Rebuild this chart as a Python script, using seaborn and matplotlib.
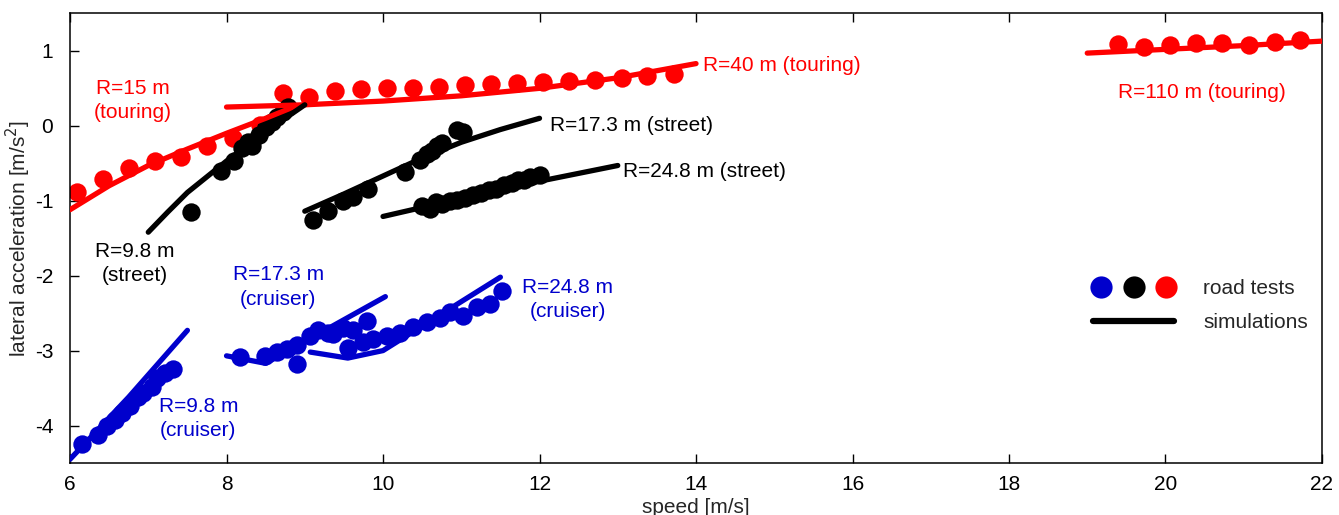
import matplotlib
matplotlib.use("Agg")
import matplotlib.pyplot as plt
from matplotlib.lines import Line2D
from matplotlib.legend_handler import HandlerTuple
import seaborn as sns

# ---- road tests (measured points) -------------------------------------
touring15_speed = [6.09, 6.42, 6.75, 7.08, 7.42, 7.75, 8.08, 8.43]
touring15_acc = [-0.88, -0.71, -0.56, -0.47, -0.41, -0.27, -0.16, 0.01]

touring40_speed = [8.72, 9.05, 9.38, 9.72, 10.05, 10.38, 10.71, 11.05,
                   11.38, 11.71, 12.05, 12.38, 12.71, 13.05, 13.38, 13.72]
touring40_acc = [0.44, 0.39, 0.46, 0.49, 0.50, 0.50, 0.52, 0.54,
                 0.56, 0.57, 0.58, 0.60, 0.61, 0.64, 0.67, 0.69]

touring110_speed = [19.39, 19.73, 20.06, 20.39, 20.72, 21.07, 21.40, 21.72]
touring110_acc = [1.09, 1.05, 1.08, 1.10, 1.11, 1.08, 1.12, 1.14]

street98_speed = [7.55, 7.93, 8.10, 8.20, 8.27, 8.33, 8.42, 8.50, 8.58, 8.65, 8.72, 8.78]
street98_acc = [-1.15, -0.60, -0.47, -0.30, -0.22, -0.27, -0.12, -0.02, 0.05, 0.12, 0.18, 0.25]

street173_speed = [9.11, 9.30, 9.49, 9.62, 9.81, 10.28, 10.47, 10.56, 10.62,
                   10.69, 10.75, 10.95, 11.02]
street173_acc = [-1.26, -1.14, -1.00, -0.95, -0.85, -0.62, -0.45, -0.38, -0.33,
                 -0.27, -0.23, -0.05, -0.08]

street248_speed = [10.50, 10.60, 10.68, 10.75, 10.85, 10.95, 11.05, 11.15, 11.25,
                   11.35, 11.45, 11.55, 11.65, 11.72, 11.80, 11.88, 12.00]
street248_acc = [-1.07, -1.11, -1.02, -1.05, -1.00, -0.99, -0.97, -0.93, -0.90,
                 -0.86, -0.84, -0.79, -0.76, -0.72, -0.73, -0.68, -0.66]

cruiser98_speed = [6.15, 6.36, 6.47, 6.57, 6.66, 6.77, 6.87, 6.93, 7.05, 7.11, 7.21, 7.32]
cruiser98_acc = [-4.24, -4.12, -4.00, -3.92, -3.83, -3.74, -3.62, -3.56, -3.49, -3.36, -3.30, -3.25]

cruiser173_speed = [8.17, 8.49, 8.64, 8.77, 8.90, 8.90, 9.07, 9.17, 9.30, 9.36, 9.49, 9.62, 9.80]
cruiser173_acc = [-3.09, -3.07, -3.02, -2.98, -3.18, -2.92, -2.80, -2.73, -2.76, -2.78, -2.70, -2.72, -2.61]

cruiser248_speed = [9.55, 9.74, 9.87, 10.05, 10.22, 10.38, 10.56, 10.73,
                    10.86, 11.02, 11.20, 11.37, 11.52]
cruiser248_acc = [-2.96, -2.89, -2.85, -2.81, -2.76, -2.68, -2.62, -2.56,
                  -2.49, -2.54, -2.42, -2.38, -2.21]

# ---- simulations --------------------------------------------------------
sim_touring15_speed = [6.0, 6.5, 7.0, 7.5, 8.0, 8.5, 8.9]
sim_touring15_acc = [-1.12, -0.80, -0.53, -0.31, -0.10, 0.10, 0.27]

sim_touring40_speed = [8.0, 9.0, 10.0, 11.0, 12.0, 13.0, 14.0]
sim_touring40_acc = [0.25, 0.28, 0.33, 0.40, 0.50, 0.64, 0.83]

sim_touring110_speed = [19.0, 20.0, 21.0, 22.0]
sim_touring110_acc = [0.97, 1.02, 1.07, 1.13]

sim_street98_speed = [7.0, 7.25, 7.5, 8.0, 8.5, 9.0]
sim_street98_acc = [-1.42, -1.15, -0.89, -0.47, -0.08, 0.28]

sim_street173_speed = [9.0, 9.5, 10.0, 10.5, 11.0, 11.5, 12.0]
sim_street173_acc = [-1.14, -0.91, -0.67, -0.43, -0.22, -0.05, 0.10]

sim_street248_speed = [10.0, 11.0, 12.0, 13.0]
sim_street248_acc = [-1.21, -0.97, -0.74, -0.53]

sim_cruiser98_speed = [6.0, 6.75, 7.5]
sim_cruiser98_acc = [-4.45, -3.62, -2.73]

sim_cruiser173_speed = [8.0, 8.5, 10.03]
sim_cruiser173_acc = [-3.07, -3.17, -2.28]

sim_cruiser248_speed = [9.07, 9.55, 10.0, 11.5]
sim_cruiser248_acc = [-3.02, -3.10, -3.00, -2.02]

RED = "#ff0000"
BLACK = "#000000"
BLUE = "#0000cc"

series = [
    (touring15_speed, touring15_acc, sim_touring15_speed, sim_touring15_acc, RED),
    (touring40_speed, touring40_acc, sim_touring40_speed, sim_touring40_acc, RED),
    (touring110_speed, touring110_acc, sim_touring110_speed, sim_touring110_acc, RED),
    (street98_speed, street98_acc, sim_street98_speed, sim_street98_acc, BLACK),
    (street173_speed, street173_acc, sim_street173_speed, sim_street173_acc, BLACK),
    (street248_speed, street248_acc, sim_street248_speed, sim_street248_acc, BLACK),
    (cruiser98_speed, cruiser98_acc, sim_cruiser98_speed, sim_cruiser98_acc, BLUE),
    (cruiser173_speed, cruiser173_acc, sim_cruiser173_speed, sim_cruiser173_acc, BLUE),
    (cruiser248_speed, cruiser248_acc, sim_cruiser248_speed, sim_cruiser248_acc, BLUE),
]

sns.set_theme(style="ticks")
plt.rcParams["font.family"] = ["Liberation Sans", "DejaVu Sans"]
plt.rcParams["font.size"] = 15
plt.rcParams["axes.unicode_minus"] = False

fig = plt.figure(figsize=(13.39, 5.15), dpi=100)
ax = fig.add_axes([0.0523, 0.101, 0.9350, 0.873])

for px, py, sx, sy, col in series:
    sns.scatterplot(x=px, y=py, color=col, s=175, linewidth=0, ax=ax, zorder=2)
    sns.lineplot(x=sx, y=sy, color=col, linewidth=3.8, sort=False,
                 estimator=None, ax=ax, zorder=3)

# ---- labels on the curves ------------------------------------------------
fs = 15
ax.text(6.8, 0.34, "R=15 m\n(touring)", color=RED, fontsize=fs, ha="center",
        va="center", linespacing=1.35)
ax.text(14.09, 0.80, "R=40 m (touring)", color=RED, fontsize=fs, ha="left", va="center")
ax.text(19.39, 0.44, "R=110 m (touring)", color=RED, fontsize=fs, ha="left", va="center")
ax.text(12.13, 0.01, "R=17.3 m (street)", color=BLACK, fontsize=fs, ha="left", va="center")
ax.text(13.07, -0.61, "R=24.8 m (street)", color=BLACK, fontsize=fs, ha="left", va="center")
ax.text(6.83, -1.84, "R=9.8 m\n(street)", color=BLACK, fontsize=fs, ha="center",
        va="center", linespacing=1.35)
ax.text(8.66, -2.15, "R=17.3 m\n(cruiser)", color=BLUE, fontsize=fs, ha="center",
        va="center", linespacing=1.35)
ax.text(12.36, -2.32, "R=24.8 m\n(cruiser)", color=BLUE, fontsize=fs, ha="center",
        va="center", linespacing=1.35)
ax.text(7.64, -3.91, "R=9.8 m\n(cruiser)", color=BLUE, fontsize=fs, ha="center",
        va="center", linespacing=1.35)

# ---- legend --------------------------------------------------------------
dots = tuple(Line2D([], [], marker="o", linestyle="none", markersize=16,
                    markerfacecolor=c, markeredgewidth=0) for c in (BLUE, BLACK, RED))
sim_line = Line2D([], [], color=BLACK, linewidth=4.5)
ax.legend([dots, sim_line], ["road tests", "simulations"],
          handler_map={tuple: HandlerTuple(ndivide=None, pad=0.72)},
          loc="center left", bbox_to_anchor=(0.817, 0.35), frameon=False,
          fontsize=fs, handlelength=3.9, handletextpad=1.4, labelspacing=0.7,
          borderaxespad=0, borderpad=0)

# ---- axes ----------------------------------------------------------------
ax.set_xlim(6, 22)
ax.set_ylim(-4.5, 1.5)
ax.set_xticks([6, 8, 10, 12, 14, 16, 18, 20, 22])
ax.set_yticks([-4, -3, -2, -1, 0, 1])
ax.tick_params(direction="in", length=6.5, width=1, labelsize=fs, colors=BLACK,
               top=True, right=False)
ax.tick_params(axis="x", pad=8.5)
ax.tick_params(axis="y", pad=12)
for sp in ax.spines.values():
    sp.set_visible(True)
    sp.set_linewidth(1.1)
    sp.set_color(BLACK)
ax.set_xlabel("speed [m/s]", fontsize=fs, labelpad=3)
ax.set_ylabel("lateral acceleration [m/s$^2$]", fontsize=fs, labelpad=1.5)
ax.grid(False)

fig.savefig("out.png", dpi=100)
